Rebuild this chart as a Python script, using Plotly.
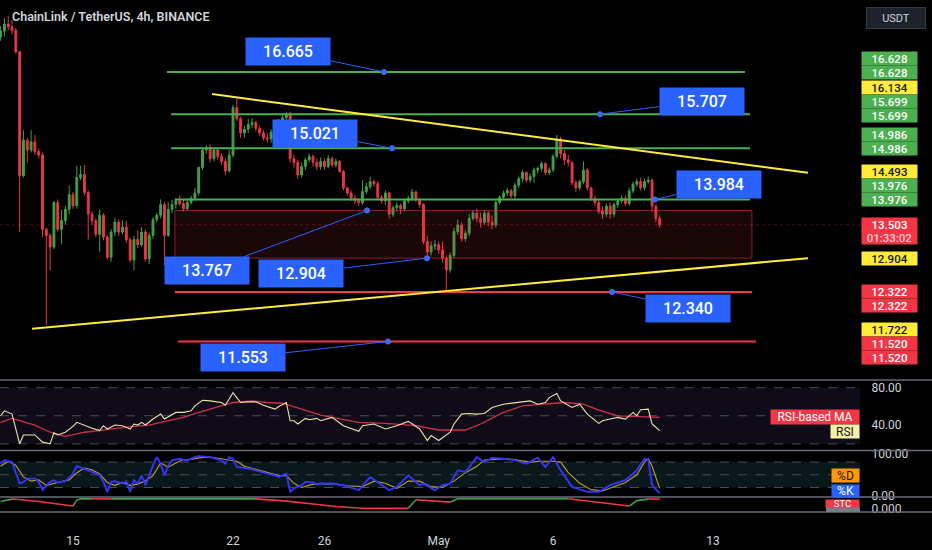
import numpy as np
import pandas as pd
import plotly.graph_objects as go

# LINK/USDT 4h candles (first candle 2024-04-11 20:00)
first_open = 17.44
close = [17.58, 17.75, 17.68, 17.60, 17.09, 14.44, 15.15, 14.95, 15.12, 14.92,
         14.85, 13.42, 13.31, 13.10, 13.92, 13.42, 13.58, 13.79, 14.07, 13.86,
         14.40, 14.46, 14.11, 13.70, 13.58, 13.33, 13.68, 13.28, 12.92, 13.37,
         13.55, 13.37, 13.46, 13.23, 12.87, 13.24, 13.14, 13.37, 12.89, 13.31,
         13.60, 13.68, 13.88, 13.31, 13.79, 13.88, 13.95, 13.90, 13.80, 13.92,
         14.00, 14.10, 14.60, 14.95, 15.00, 14.78, 14.95, 14.82, 14.72, 14.53,
         14.85, 15.84, 15.60, 15.30, 15.38, 15.48, 15.52, 15.40, 15.30, 15.20,
         15.18, 15.32, 15.40, 15.50, 15.62, 15.70, 14.78, 14.70, 14.45, 14.62,
         14.75, 14.82, 14.70, 14.62, 14.72, 14.62, 14.78, 14.65, 14.72, 14.52,
         14.20, 14.10, 14.00, 13.95, 13.92, 14.13, 14.22, 14.32, 14.28, 14.02,
         13.95, 14.10, 13.70, 13.82, 13.86, 13.80, 13.95, 14.00, 14.12, 13.98,
         13.88, 13.20, 13.01, 13.12, 13.14, 13.05, 12.90, 12.70, 12.95, 13.38,
         13.50, 13.25, 13.35, 13.62, 13.72, 13.62, 13.55, 13.72, 13.55, 13.50,
         13.92, 14.02, 14.10, 14.15, 14.05, 14.25, 14.38, 14.50, 14.35, 14.42,
         14.55, 14.58, 14.68, 14.50, 14.55, 14.82, 15.18, 14.88, 14.75, 14.70,
         14.30, 14.20, 14.32, 14.55, 14.20, 14.00, 13.92, 13.75, 13.70, 13.85,
         13.70, 13.88, 13.95, 14.00, 13.90, 14.14, 14.27, 14.32, 14.20, 14.32,
         14.35, 13.85, 13.62, 13.503]
high = [17.70, 17.90, 17.95, 17.85, 17.65, 17.12, 15.36, 15.20, 15.36, 15.26,
        14.98, 14.90, 13.45, 13.35, 13.95, 13.98, 13.79, 13.86, 14.24, 14.12,
        14.63, 14.63, 14.65, 14.15, 13.75, 13.62, 13.79, 13.72, 13.32, 13.42,
        13.64, 13.60, 13.58, 13.58, 13.27, 13.30, 13.40, 13.46, 13.42, 13.36,
        13.65, 13.73, 13.98, 13.93, 13.92, 13.97, 14.00, 14.05, 13.98, 13.98,
        14.05, 14.20, 14.62, 15.00, 15.05, 15.07, 15.00, 14.98, 14.88, 14.78,
        14.95, 15.90, 16.04, 15.65, 15.45, 15.60, 15.62, 15.56, 15.45, 15.36,
        15.30, 15.38, 15.50, 15.60, 15.70, 15.75, 15.75, 14.85, 14.75, 14.70,
        14.80, 14.88, 14.86, 14.78, 14.80, 14.78, 14.85, 14.82, 14.78, 14.75,
        14.55, 14.22, 14.15, 14.05, 14.00, 14.35, 14.30, 14.42, 14.36, 14.32,
        14.06, 14.15, 14.12, 13.86, 13.92, 13.90, 13.98, 14.05, 14.18, 14.15,
        14.00, 13.90, 13.30, 13.20, 13.22, 13.20, 13.20, 12.95, 13.00, 13.45,
        13.60, 13.55, 13.40, 13.70, 13.78, 13.80, 13.73, 13.78, 13.76, 13.68,
        13.96, 14.06, 14.15, 14.20, 14.18, 14.30, 14.42, 14.55, 14.52, 14.48,
        14.60, 14.62, 14.72, 14.70, 14.60, 14.87, 15.26, 15.22, 14.95, 14.85,
        14.72, 14.35, 14.36, 14.72, 14.58, 14.22, 14.05, 13.98, 13.85, 13.90,
        13.92, 13.92, 13.98, 14.05, 14.05, 14.20, 14.32, 14.38, 14.40, 14.38,
        14.42, 14.38, 13.88, 13.68]
low = [17.35, 17.45, 17.60, 17.50, 17.05, 13.37, 14.40, 14.69, 14.90, 14.85,
       14.78, 13.28, 11.78, 12.69, 13.06, 13.38, 13.15, 13.50, 13.70, 13.80,
       13.80, 14.35, 14.05, 13.23, 13.50, 13.28, 13.01, 13.22, 12.88, 12.84,
       13.30, 13.30, 13.33, 13.18, 12.83, 12.69, 13.08, 13.10, 12.84, 12.80,
       13.25, 13.55, 13.62, 12.78, 13.28, 13.72, 13.80, 13.85, 13.75, 13.77,
       13.88, 13.95, 14.05, 14.55, 14.88, 14.70, 14.72, 14.75, 14.65, 14.45,
       14.50, 14.80, 15.55, 15.20, 15.20, 15.30, 15.40, 15.33, 15.25, 15.15,
       15.10, 15.10, 15.25, 15.35, 15.45, 15.55, 14.70, 14.60, 14.38, 14.40,
       14.55, 14.70, 14.62, 14.55, 14.55, 14.55, 14.58, 14.60, 14.60, 14.50,
       14.15, 14.05, 13.95, 13.90, 13.85, 13.88, 14.08, 14.18, 14.22, 13.98,
       13.90, 13.88, 13.62, 13.65, 13.75, 13.70, 13.75, 13.90, 13.95, 13.92,
       13.82, 13.15, 12.95, 12.95, 13.05, 12.98, 12.82, 12.36, 12.65, 12.90,
       13.32, 13.20, 13.20, 13.30, 13.58, 13.55, 13.45, 13.50, 13.48, 13.42,
       13.45, 13.88, 13.98, 14.05, 14.00, 14.00, 14.20, 14.32, 14.30, 14.30,
       14.30, 14.48, 14.52, 14.45, 14.45, 14.50, 14.78, 14.78, 14.65, 14.62,
       14.25, 14.12, 14.15, 14.28, 14.15, 13.95, 13.85, 13.70, 13.62, 13.65,
       13.62, 13.65, 13.82, 13.90, 13.85, 13.86, 14.10, 14.22, 14.15, 14.15,
       14.28, 13.75, 13.55, 13.45]

times = pd.date_range("2024-04-11 20:00", periods=len(close), freq="4h")
opens = [first_open] + close[:-1]
last_price = close[-1]

# RSI pane (candle index, value)
rsi_idx = [0, 1, 3, 5, 6, 9, 11, 13, 14, 15, 17, 19, 20, 22, 24, 26, 27, 28, 30, 32,
           34, 35, 36, 37, 38, 40, 41, 42, 43, 45, 46, 48, 50, 51, 53, 55, 58, 59, 60, 61,
           62, 63, 65, 67, 69, 71, 72, 73, 75, 76, 77, 78, 80, 81, 83, 84, 87, 90, 94, 95,
           98, 101, 104, 107, 110, 112, 113, 115, 118, 119, 121, 123, 125, 127, 129, 132, 135, 139, 141, 143,
           144, 146, 147, 150, 152, 154, 157, 158, 160, 162, 164, 166, 167, 168, 170, 171, 172, 173]
rsi_val = [50, 55.3, 51.8, 20, 29.5, 29.5, 21.8, 20, 31.7, 29.5, 32.4, 38.7, 43, 39.4, 36.6, 34.1, 39.4, 35.9, 40.1, 39.4,
           35.9, 41.2, 40.1, 43, 40.1, 46.5, 49, 51.8, 46.5, 50.7, 53.6, 53.6, 55.3, 60.6, 66.6, 65.9, 64.2, 61.3, 67.7, 74.7,
           69.4, 64.2, 64.9, 64.9, 61.3, 58.9, 57.1, 59.9, 64.2, 44.7, 44.7, 41.2, 47.2, 45.8, 47.2, 44.7, 48.3, 39.4, 33.4, 39.4,
           41.2, 35.9, 39.4, 44, 35.9, 23.5, 28.8, 23.5, 32.4, 41.2, 51.8, 52.5, 51.8, 52.5, 58.9, 62.4, 64.2, 65.9, 62.4, 64.2,
           69.4, 73.7, 65.9, 58.9, 62.4, 51.8, 41.9, 44.7, 46.5, 48.3, 46.5, 53.6, 50, 56.4, 57.1, 41.2, 37.7, 34.1]
rsima_idx = [0, 3, 9, 13, 17, 22, 26, 30, 35, 39, 44, 48, 52, 57, 61, 66, 70, 74, 79, 84,
             87, 94, 101, 109, 115, 122, 126, 132, 137, 143, 148, 153, 157, 162, 168, 173]
rsima_val = [43, 47.2, 40.1, 32.4, 28.1, 32.4, 34.1, 36.6, 38.7, 40.1, 44.7, 48.3, 53.6, 59.9, 64.2, 65.9, 64.2, 63.4, 57.1, 50.7,
             48.3, 43, 41.9, 39.4, 34.8, 34.8, 41.2, 53.6, 60.6, 63, 64.2, 62.4, 56, 50, 49.3, 48.3]

# Stochastic RSI pane
stk_idx = [0, 1, 3, 4, 5, 6, 7, 9, 10, 11, 13, 14, 15, 17, 19, 20, 22, 24, 26, 27,
           28, 29, 30, 32, 33, 34, 35, 36, 37, 38, 40, 41, 42, 43, 44, 45, 47, 49, 51, 52,
           55, 58, 59, 60, 61, 62, 65, 67, 70, 72, 73, 75, 76, 77, 79, 80, 82, 83, 84, 87,
           90, 94, 97, 100, 102, 104, 107, 110, 111, 114, 116, 118, 120, 122, 125, 127, 129, 132, 135, 138,
           141, 143, 145, 147, 150, 154, 157, 160, 164, 167, 169, 170, 171, 173]
stk_val = [76.2, 84, 80.1, 52.8, 29.3, 33.2, 41, 41, 33.2, 13.7, 33.2, 37.1, 31.7, 34.8, 52.8, 70.7, 64.5, 56.7, 48.8, 33.2,
           9.8, 33.2, 34.8, 29.3, 34.8, 9.8, 37.1, 29.3, 48.8, 25.4, 72.3, 91.8, 76.2, 48.8, 72.3, 84, 87.9, 84, 91.8, 94.1,
           91.8, 84, 76.2, 91.8, 87.9, 68.4, 64.5, 60.6, 52.8, 48.8, 44.9, 52.8, 9.8, 17.6, 25.4, 33.2, 31.7, 27, 29.3, 29.3,
           25.4, 13.7, 44.9, 25.4, 13.7, 21.5, 48.8, 25.4, 29.3, 13.7, 25.4, 29.3, 60.5, 56.6, 91.8, 80.1, 90.2, 87.9, 84, 76.2,
           90.2, 68.4, 91.8, 60.6, 21.5, 9.8, 9.8, 25.4, 37.1, 60.6, 87.9, 85.6, 25.4, 5.9]
std_idx = [0, 2, 4, 6, 8, 10, 12, 14, 16, 18, 20, 22, 24, 26, 28, 30, 32, 34, 36, 38,
           40, 42, 44, 46, 48, 50, 52, 55, 58, 60, 62, 64, 67, 70, 73, 75, 77, 79, 82, 85,
           88, 91, 95, 98, 101, 104, 107, 110, 113, 116, 119, 122, 125, 127, 130, 133, 136, 139, 142, 145,
           147, 149, 152, 155, 158, 161, 164, 167, 169, 170, 171, 173]
std_val = [70, 82, 72, 45, 35, 38, 25, 30, 34, 38, 55, 66, 62, 52, 32, 25, 32, 25, 28, 36,
           48, 78, 68, 78, 86, 86, 90, 92, 88, 84, 82, 70, 63, 56, 48, 48, 30, 20, 28, 29,
           28, 24, 22, 35, 30, 18, 35, 35, 22, 20, 35, 55, 70, 85, 86, 88, 84, 80, 82, 82,
           80, 55, 30, 15, 12, 22, 32, 50, 80, 88, 70, 18]

# STC pane: (direction, candle indices, values)
stc_segments = [
    ("up", [0, 3], [70, 95]),
    ("down", [3, 4, 10, 15, 19], [95, 94, 70, 45, 25]),
    ("up", [19, 20, 21, 24], [25, 85, 97, 97]),
    ("down", [24, 29], [97, 97]),
    ("up", [29, 67], [97, 97]),
    ("down", [67, 75, 82, 88, 95, 107], [97, 75, 45, 20, 3, 2]),
    ("up", [107, 109], [2, 88]),
    ("down", [109, 118], [88, 65]),
    ("up", [118, 120, 149], [65, 98, 98]),
    ("down", [149, 155, 165], [98, 70, 25]),
    ("up", [165, 167, 170], [25, 80, 95]),
    ("down", [170, 173], [95, 95]),
]

# horizontal levels
level_price = [16.628, 15.699, 14.986, 13.976, 12.322, 11.520]
level_start = ["2024-04-19 02:40", "2024-04-19 07:00", "2024-04-19 07:00",
               "2024-04-19 11:00", "2024-04-19 11:00", "2024-04-19 14:20"]
level_end = ["2024-05-14 09:30", "2024-05-14 14:50", "2024-05-14 14:50",
             "2024-05-14 14:50", "2024-05-14 16:50", "2024-05-14 21:00"]
level_kind = ["res", "res", "res", "res", "sup", "sup"]

# trendlines
upper_t = ["2024-04-21 02:00", "2024-05-17 03:40"]
upper_p = [16.134, 14.493]
lower_t = ["2024-04-13 05:00", "2024-05-17 03:40"]
lower_p = [11.722, 12.904]

# zone
zone_t = ["2024-04-19 11:00", "2024-05-14 16:50"]
zone_p = [12.904, 13.767]

# callout labels: text, anchor time, anchor price, offset x/y (px)
call_text = ["16.665", "15.707", "15.021", "13.984", "13.767", "12.904", "12.340", "11.553"]
call_t = ["2024-04-28 14:30", "2024-05-08 01:20", "2024-04-28 23:00", "2024-05-10 11:00",
          "2024-04-27 20:40", "2024-04-30 11:40", "2024-05-08 14:00", "2024-04-28 18:40"]
call_p = [16.628, 15.699, 14.986, 13.976, 13.767, 12.904, 12.322, 11.520]
call_ax = [-96, 102, -77, 64, -160, -126, 76, -145]
call_ay = [-20, -13, -15, -15, 60, 15, 16, 16]

# right axis price tags: text, kind, pixel row
tag_text = ["16.628", "16.628", "16.134", "15.699", "15.699", "14.986", "14.986",
            "14.493", "13.976", "13.976", "13.503", "01:33:02", "12.904",
            "12.322", "12.322", "11.722", "11.520", "11.520"]
tag_kind = ["g", "g", "y", "g", "g", "g", "g", "y", "g", "g", "r", "t", "y",
            "r", "r", "y", "r", "r"]
tag_row = [55, 69, 84, 98, 112, 132, 146, 169, 183, 197, 222, 235, 257,
           290, 304, 328, 342, 356]

GREEN = "#4caf50"
RED = "#f23645"
YELLOW = "#ffeb3b"
BLUE = "#2962ff"
TXT = "#d1d4dc"
PLOT_H = 512
PLOT_W = 860
x_range = ["2024-04-11 19:22", "2024-05-19 10:18"]


def py(px):
    return 1 - px / PLOT_H


fig = go.Figure()

# zone rectangle
fig.add_trace(go.Scatter(
    x=[zone_t[0], zone_t[1], zone_t[1], zone_t[0], zone_t[0]],
    y=[zone_p[0], zone_p[0], zone_p[1], zone_p[1], zone_p[0]],
    mode="lines", fill="toself", fillcolor="rgba(242,54,69,0.11)",
    line=dict(color="rgba(242,54,69,0.55)", width=1), hoverinfo="skip"))

# last price line
fig.add_trace(go.Scatter(x=x_range, y=[last_price, last_price], mode="lines",
                         line=dict(color="rgba(242,54,69,0.3)", width=1, dash="dot"),
                         hoverinfo="skip"))

fig.add_trace(go.Candlestick(
    x=times, open=opens, high=high, low=low, close=close,
    increasing=dict(line=dict(color="#43a047", width=1), fillcolor="#43a047"),
    decreasing=dict(line=dict(color="#e53945", width=1), fillcolor="#e53945"),
    whiskerwidth=0))

for p, t0, t1, k in zip(level_price, level_start, level_end, level_kind):
    fig.add_trace(go.Scatter(x=[t0, t1], y=[p, p], mode="lines",
                             line=dict(color=GREEN if k == "res" else RED, width=2),
                             hoverinfo="skip"))

fig.add_trace(go.Scatter(x=upper_t, y=upper_p, mode="lines",
                         line=dict(color=YELLOW, width=2), hoverinfo="skip"))
fig.add_trace(go.Scatter(x=lower_t, y=lower_p, mode="lines",
                         line=dict(color=YELLOW, width=2), hoverinfo="skip"))

fig.add_trace(go.Scatter(x=call_t, y=call_p, mode="markers",
                         marker=dict(color="#3a6df0", size=6), hoverinfo="skip"))

# RSI
fig.add_trace(go.Scatter(x=times[rsima_idx], y=rsima_val, mode="lines", yaxis="y2",
                         line=dict(color="#d0304a", width=1.3), hoverinfo="skip"))
fig.add_trace(go.Scatter(x=times[rsi_idx], y=rsi_val, mode="lines", yaxis="y2",
                         line=dict(color="#ece6a6", width=1.1), hoverinfo="skip"))

# Stoch RSI
fig.add_trace(go.Scatter(x=times[std_idx], y=std_val, mode="lines", yaxis="y3",
                         line=dict(color="#c29a32", width=1.1), hoverinfo="skip"))
fig.add_trace(go.Scatter(x=times[stk_idx], y=stk_val, mode="lines", yaxis="y3",
                         line=dict(color="#3434ff", width=1.9), hoverinfo="skip"))

# STC
for d, idx, vals in stc_segments:
    fig.add_trace(go.Scatter(x=times[idx], y=vals, mode="lines", yaxis="y4",
                             line=dict(color="#43a047" if d == "up" else RED, width=1.6),
                             hoverinfo="skip"))

shapes = []
# pane bands and dashed guides
shapes.append(dict(type="rect", xref="paper", yref="y2", x0=0, x1=1, y0=20, y1=80,
                   fillcolor="#100b19", line=dict(width=0), layer="below"))
shapes.append(dict(type="rect", xref="paper", yref="y3", x0=0, x1=1, y0=20, y1=80,
                   fillcolor="#08181b", line=dict(width=0), layer="below"))
for v in [80, 50, 20]:
    shapes.append(dict(type="line", xref="paper", yref="y2", x0=0, x1=1, y0=v, y1=v,
                       line=dict(color="#4d4d58", width=1, dash="dash"), layer="below"))
    shapes.append(dict(type="line", xref="paper", yref="y3", x0=0, x1=1, y0=v, y1=v,
                       line=dict(color="#4d4d58", width=1, dash="dash"), layer="below"))
# pane separators
for px in [379, 450, 497, 512]:
    shapes.append(dict(type="line", xref="paper", yref="paper", x0=0, x1=932 / PLOT_W,
                       y0=py(px), y1=py(px), line=dict(color="#6b6e78", width=1.5)))
shapes.append(dict(type="rect", xref="paper", yref="paper", x0=826 / PLOT_W, x1=1,
                   y0=0, y1=py(507), fillcolor="#787b86", line=dict(width=0)))

annotations = []
annotations.append(dict(text="ChainLink / TetherUS, 4h, BINANCE", xref="paper", yref="paper",
                        x=10 / PLOT_W, y=py(13), xanchor="left", yanchor="middle", showarrow=False,
                        font=dict(size=12.5, color=TXT, weight=600)))
annotations.append(dict(text="USDT", xref="paper", yref="paper", x=896 / PLOT_W, y=py(14),
                        xanchor="center", yanchor="middle", showarrow=False, width=56, height=18,
                        bgcolor="#1e222d", bordercolor="#363a45", borderwidth=1,
                        font=dict(size=11, color=TXT)))

for txt, t, p, ax, ay in zip(call_text, call_t, call_p, call_ax, call_ay):
    annotations.append(dict(text=txt, x=t, y=np.log10(p), xref="x", yref="y",
                            ax=ax, ay=ay, showarrow=True, arrowhead=0, arrowwidth=1,
                            arrowcolor=BLUE, bgcolor=BLUE, width=80, height=23, borderpad=2,
                            font=dict(size=16, color="white", weight=500)))

tag_style = {"g": (GREEN, "white"), "y": (YELLOW, "#131722"), "r": (RED, "white"),
             "t": (RED, "#ffc9cf")}
for txt, k, row in zip(tag_text, tag_kind, tag_row):
    bg, fg = tag_style[k]
    annotations.append(dict(text=txt, xref="paper", yref="paper", x=861 / PLOT_W, y=py(row),
                            xanchor="left", yanchor="middle", showarrow=False, width=55, height=13,
                            borderpad=0, bgcolor=bg, font=dict(size=11.5, color=fg, weight=500)))

# pane legends at the right edge
pane_tags = [("RSI-based MA", RED, "white", 416, 88, 14, 12),
             ("RSI", "#f7f0a6", "#131722", 430.5, 28, 13, 12),
             ("%D", "#ff9800", "#131722", 475.5, 27, 13, 12),
             ("%K", BLUE, "white", 490.5, 27, 12, 12),
             ("STC", RED, "white", 503, 33, 7, 9.5)]
for txt, bg, fg, row, w, h, fs in pane_tags:
    annotations.append(dict(text=txt, xref="paper", yref="paper", x=1, y=py(row),
                            xanchor="right", yanchor="middle", showarrow=False, width=w, height=h,
                            borderpad=0, bgcolor=bg, font=dict(size=fs, color=fg)))

axis_common = dict(showgrid=False, zeroline=False, showline=False, anchor="x", side="right",
                   ticks="outside", ticklen=8, tickcolor="rgba(0,0,0,0)",
                   tickfont=dict(size=12, color=TXT))

fig.update_layout(
    width=932, height=550,
    margin=dict(l=0, r=72, t=0, b=38),
    paper_bgcolor="#000000", plot_bgcolor="#000000",
    showlegend=False,
    font=dict(family="Roboto, sans-serif", color=TXT),
    xaxis=dict(type="date", range=x_range, anchor="y4", showgrid=False, zeroline=False,
               rangeslider=dict(visible=False),
               tickvals=["2024-04-15", "2024-04-22", "2024-04-26", "2024-05-01", "2024-05-06", "2024-05-13"],
               ticktext=["15", "22", "26", "May", "6", "13"],
               ticks="outside", ticklen=18, tickcolor="rgba(0,0,0,0)",
               tickfont=dict(size=12, color=TXT)),
    yaxis=dict(type="log", domain=[py(379), 1], range=[np.log10(10.93), np.log10(18.24)],
               showticklabels=False, showgrid=False, zeroline=False, anchor="x", side="right"),
    yaxis2=dict(domain=[py(450), py(379)], range=[12.9, 88.2], tickvals=[80, 40],
                ticktext=["80.00", "40.00"], **axis_common),
    yaxis3=dict(domain=[py(497), py(450)], range=[-2.7, 107.4], tickvals=[100, 0],
                ticktext=["100.00", "0.00"], **axis_common),
    yaxis4=dict(domain=[0, py(497)], range=[-35, 115], tickvals=[0],
                ticktext=["0.000"], **axis_common),
    shapes=shapes,
    annotations=annotations,
)

# page body margin off so the chart fills the window
fig.write_html("out.html", config={"displayModeBar": False},
               post_script="document.body.style.margin='0';document.body.style.background='#000';")
